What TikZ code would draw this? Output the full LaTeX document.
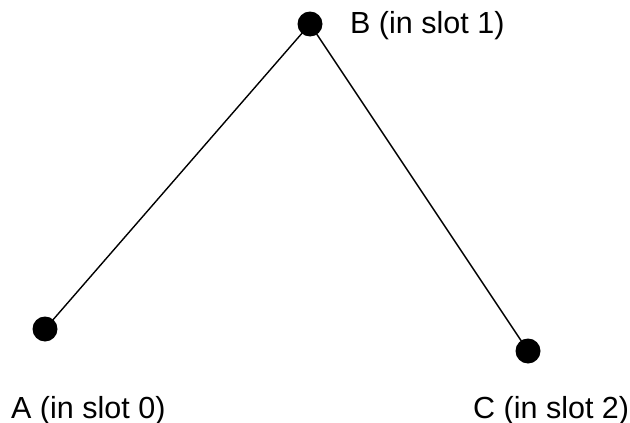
\documentclass[tikz,border=0pt]{standalone}
\usepackage{fontspec}
\setmainfont{Liberation Sans}
\begin{document}
\begin{tikzpicture}[x=1pt,y=-1pt,
  dot/.style={circle,fill=black,inner sep=0pt,minimum size=25pt},
  lbl/.style={anchor=base west,inner sep=0pt,font=\fontsize{30.5}{35}\selectfont},
  edge/.style={line width=1.4pt}]
\useasboundingbox (0,0) rectangle (630,423);
\node[dot] (B) at (310,24) {};
\node[dot] (A) at (45,329) {};
\node[dot] (C) at (528,351) {};
\draw[edge] (A.center) -- (B.center) -- (C.center);
\node[lbl] (lb) at (350,33) {B (in slot 1)};
\node[lbl] (la) at (11,418) {A (in slot 0)};
\node[lbl] (lc) at (473,418) {C (in slot 2)};
\end{tikzpicture}
\end{document}
